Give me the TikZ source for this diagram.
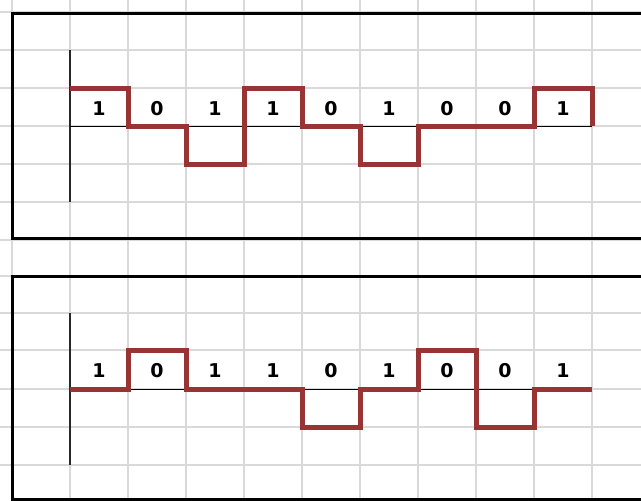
\documentclass[tikz,border=0pt]{standalone}
\usepackage{fontspec}
\setmainfont{DejaVu Sans}
\definecolor{sig}{RGB}{153,52,52}
\definecolor{gridc}{RGB}{217,217,217}
\definecolor{axisc}{RGB}{40,40,40}
\tikzset{
  gridline/.style={draw=gridc, line width=1.6pt},
  frameline/.style={draw=black, line width=3pt},
  axisline/.style={draw=axisc, line width=1.6pt},
  baseline/.style={draw=black, line width=1pt},
  signal/.style={draw=sig, line width=5pt, line join=miter, line cap=butt},
  bitlabel/.style={font=\fontsize{19}{19}\selectfont\bfseries, text=black, inner sep=0pt, anchor=center}
}
\begin{document}
\begin{tikzpicture}[x=1pt,y=-1pt]
\useasboundingbox (0,0) rectangle (641,501);
\fill[white] (0,0) rectangle (641,501);
% grid
\foreach \gx in {12,70,128,186,244,302,360,418,476,534,592}
  \draw[gridline] (\gx,0) -- (\gx,501);
\foreach \gy in {12,50,88,126,164,202,240,276,313,350,389,427,465}
  \draw[gridline] (0,\gy) -- (641,\gy);
% frames
\begin{scope}
\clip (0,0) rectangle (641,501);
\draw[frameline] (660,13.5) -- (12.5,13.5) -- (12.5,238.5) -- (660,238.5);
\draw[frameline] (660,276.5) -- (12.5,276.5) -- (12.5,499.5) -- (660,499.5);
\end{scope}
% upper axes
\draw[axisline] (70,50) -- (70,202);
\draw[baseline] (70,126) -- (592,126);
% lower axes
\draw[axisline] (70,313) -- (70,465);
\draw[baseline] (70,389) -- (592,389);
% upper signal (AMI)
\draw[signal] (70,88) -- (128,88) -- (128,126) -- (186,126) -- (186,164) -- (244,164)
  -- (244,88) -- (302,88) -- (302,126) -- (360,126) -- (360,164) -- (418,164)
  -- (418,126) -- (534,126) -- (534,88) -- (592,88) -- (592,126);
% lower signal
\draw[signal] (70,389) -- (128,389) -- (128,350) -- (186,350) -- (186,389) -- (302,389)
  -- (302,427) -- (360,427) -- (360,389) -- (418,389) -- (418,350) -- (476,350)
  -- (476,427) -- (534,427) -- (534,389) -- (592,389);
% labels upper
\foreach \b [count=\i] in {1,0,1,1,0,1,0,0,1}
  \node[bitlabel] (u\i) at ({41+58*\i},108.5) {\b};
% labels lower
\foreach \b [count=\i] in {1,0,1,1,0,1,0,0,1}
  \node[bitlabel] (l\i) at ({41+58*\i},371) {\b};
\end{tikzpicture}
\end{document}
